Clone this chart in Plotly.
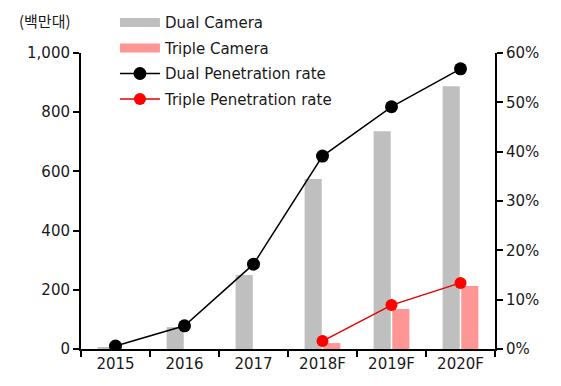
import plotly.graph_objects as go

categories = ["2015", "2016", "2017", "2018F", "2019F", "2020F"]
dual_camera = [5, 74, 250, 574, 736, 888]
triple_camera = [None, None, None, 20, 135, 213]
dual_rate = [0.6, 4.7, 17.2, 39.1, 49.1, 56.8]
triple_rate = [None, None, None, 1.6, 8.9, 13.4]

left_ticks = [0, 200, 400, 600, 800, 1000]
left_labels = ["0", "200", "400", "600", "800", "1,000"]
right_ticks = [0, 10, 20, 30, 40, 50, 60]
right_labels = ["0%", "10%", "20%", "30%", "40%", "50%", "60%"]

font_main = "DejaVu Sans, Liberation Sans, sans-serif"
txt = "#1a1a1a"
gray = "#BFBFBF"
pink = "#FF9696"

fig = go.Figure()
fig.add_trace(go.Bar(x=categories, y=dual_camera, name="Dual Camera", showlegend=False,
                     marker=dict(color=gray, line=dict(width=0))))
fig.add_trace(go.Bar(x=categories, y=triple_camera, name="Triple Camera", showlegend=False,
                     marker=dict(color=pink, line=dict(width=0))))
# legend-only entries with wide swatches for the bar series
fig.add_trace(go.Scatter(x=[None], y=[None], name="Dual Camera", mode="lines",
                         legendgroup="a", line=dict(color=gray, width=9)))
fig.add_trace(go.Scatter(x=[None], y=[None], name="Triple Camera", mode="lines",
                         legendgroup="b", line=dict(color=pink, width=9)))
fig.add_trace(go.Scatter(x=categories, y=dual_rate, name="Dual Penetration rate",
                         legendgroup="c",
                         yaxis="y2", mode="lines+markers",
                         line=dict(color="black", width=1.5),
                         marker=dict(color="black", size=13)))
fig.add_trace(go.Scatter(x=categories, y=triple_rate, name="Triple Penetration rate",
                         legendgroup="d",
                         yaxis="y2", mode="lines+markers",
                         line=dict(color="#E60000", width=1.5),
                         marker=dict(color="#FF0000", size=12)))

fig.update_layout(
    width=553, height=378,
    margin=dict(l=73, r=66, t=45, b=37, autoexpand=False),
    paper_bgcolor="white", plot_bgcolor="white",
    barmode="group", bargap=0.46, bargroupgap=0.08,
    font=dict(family=font_main, size=15, color=txt),
    showlegend=True,
    legend=dict(x=0.082, y=1.158, xanchor="left", yanchor="top",
                bgcolor="rgba(0,0,0,0)", font=dict(size=15, color=txt),
                traceorder="grouped", tracegroupgap=3, itemwidth=40),
    xaxis=dict(type="category", showline=True, linecolor="black", linewidth=2,
               ticks="outside", tickson="boundaries", ticklen=6, tickwidth=2,
               tickcolor="black", showgrid=False, tickfont=dict(size=15, color=txt)),
    yaxis=dict(range=[0, 1000], tickvals=left_ticks, ticktext=left_labels,
               showline=True, linecolor="black", linewidth=2, ticks="outside",
               ticklen=6, tickwidth=2, tickcolor="black", showgrid=False,
               zeroline=False, tickfont=dict(size=15, color=txt)),
    yaxis2=dict(range=[0, 60], tickvals=right_ticks, ticktext=right_labels,
                overlaying="y", side="right", showline=True, linecolor="black",
                linewidth=2, ticks="outside", ticklen=6, tickwidth=2,
                tickcolor="black", showgrid=False, zeroline=False,
                tickfont=dict(size=15, color=txt)),
    annotations=[dict(text="(백만대)", xref="paper", yref="paper", x=-0.155, y=1.11,
                      xanchor="left", yanchor="middle", showarrow=False,
                      font=dict(family="Noto Sans CJK KR", size=15, color=txt))],
)

fig.write_html("out.html")
